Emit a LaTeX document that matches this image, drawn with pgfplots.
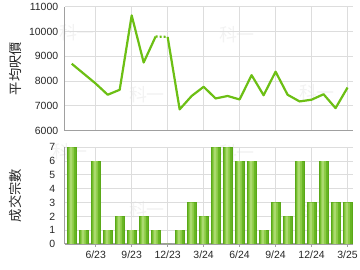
\documentclass[border=0pt]{standalone}
\usepackage{pgfplots}
\pgfplotsset{compat=1.18}
\usepackage{pgfplotstable}
\usepackage{fontspec}
\setmainfont{Liberation Sans}
\newfontfamily\cjk{Noto Sans CJK TC}
\definecolor{linegreen}{HTML}{6CBF14}
\definecolor{bardark}{HTML}{66B522}
\definecolor{barmid}{HTML}{8ACB44}
\definecolor{barlight}{HTML}{AADA6E}
\definecolor{baredge}{HTML}{5AA818}
\definecolor{gridc}{HTML}{DDDDDD}
\definecolor{axc}{HTML}{A0A0A0}
\definecolor{wm}{HTML}{F2F2F2}

\pgfplotstableread{
idx price count
0 8700 7
1 8300 1
2 7900 6
3 7450 1
4 7650 2
5 10650 1
6 8750 2
7 9800 1
8 9780 0
9 6860 1
10 7400 3
11 7770 2
12 7300 7
13 7400 7
14 7260 6
15 8240 6
16 7430 1
17 8380 3
18 7450 2
19 7180 6
20 7250 3
21 7470 6
22 6910 3
23 7740 3
}\datatable

\pgfplotsset{
  common/.style={
    scale only axis,
    width=288.6bp,
    xmin=-0.585, xmax=23.48,
    axis x line*=bottom, axis y line*=left,
    axis line style={draw=axc, line width=1.3bp, -},
    grid=major,
    major grid style={draw=gridc, line width=0.9bp},
    xtick={2,5,8,11,14,17,20,23},
    ytick style={draw=none},
    scaled y ticks=false,
    tick label style={font=\fontsize{10.5}{11}\selectfont, text=black!85},
    /pgf/number format/assume math mode=true,
    /pgf/number format/1000 sep={},
    yticklabel style={xshift=-3bp},
    every axis y label/.style={at={(axis description cs:-0.172,0.5)}, rotate=90, anchor=center, font=\cjk\fontsize{13.3}{15}\selectfont, text=black!85},
  }
}

\begin{document}
\begin{tikzpicture}[x=1bp,y=1bp]
\useasboundingbox (0,0) rectangle (360,270);
% faint watermarks
\begin{scope}[every node/.style={text=wm, font=\cjk\fontsize{18}{18}\selectfont}]
\node at (77,237) {科一};
\node at (147,175) {科一};
\node at (237,235) {科一};
\node at (317,177) {科一};
\node at (70,118) {科一};
\node at (147,60) {科一};
\node at (237,117) {科一};
\node at (313,58) {科一};
\end{scope}

\begin{axis}[common,
  at={(64.7bp,139.3bp)}, anchor=south west,
  height=124bp,
  ymin=6000, ymax=11000,
  ytick={6000,7000,8000,9000,10000,11000},
  xticklabels={},
  xtick style={draw=none},
  ylabel={平均呎價},
]
\addplot[linegreen, line width=2.2bp, line join=round, restrict x to domain=0:7] table[x=idx,y=price]{\datatable};
\addplot[linegreen, line width=2.2bp, dash pattern=on 2bp off 2bp, restrict x to domain=7:8] table[x=idx,y=price]{\datatable};
\addplot[linegreen, line width=2.2bp, line join=round, restrict x to domain=8:23] table[x=idx,y=price]{\datatable};
\end{axis}

\begin{axis}[common,
  at={(64.7bp,26bp)}, anchor=south west,
  height=96.7bp,
  ymin=0, ymax=7,
  ytick={0,1,2,3,4,5,6,7},
  xticklabels={6/23,9/23,12/23,3/24,6/24,9/24,12/24,3/25},
  xtick style={draw=axc, line width=1bp},
  tick align=outside,
  major tick length=3bp,
  ylabel={成交宗數},
]
\addplot[ybar, bar width=8.5bp, bar shift=0pt, draw=baredge, line width=0.5bp, fill=bardark]
  table[x=idx,y=count]{\datatable};
\addplot[ybar, bar width=5.5bp, bar shift=-0.3bp, draw=none, fill=barmid]
  table[x=idx,y=count]{\datatable};
\addplot[ybar, bar width=2.5bp, bar shift=-0.6bp, draw=none, fill=barlight]
  table[x=idx,y=count]{\datatable};
\end{axis}
\end{tikzpicture}
\end{document}
